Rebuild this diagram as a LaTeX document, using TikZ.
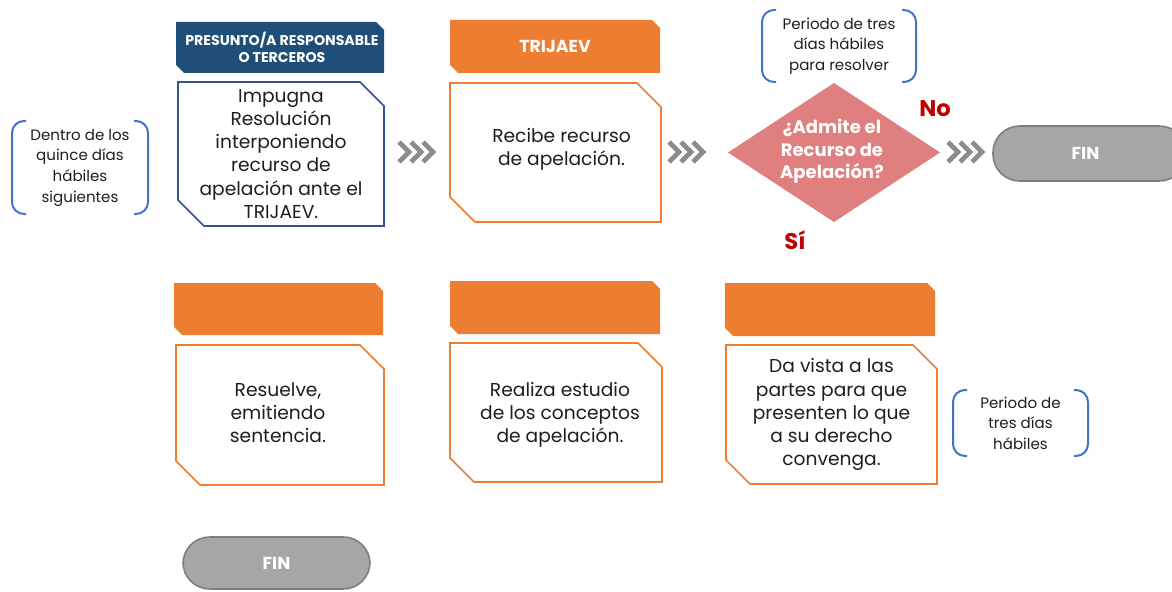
\documentclass[tikz,border=0pt]{standalone}
\usepackage{fontspec}
\setmainfont{Poppins}
\usetikzlibrary{calc,fit}
\definecolor{hdrblue}{HTML}{1F4E79}
\definecolor{boxblue}{HTML}{2F5597}
\definecolor{orng}{HTML}{ED7D31}
\definecolor{dia}{HTML}{E07F7F}
\definecolor{brblue}{HTML}{4472C4}
\definecolor{pillfill}{HTML}{A6A6A6}
\definecolor{pilldraw}{HTML}{7F7F7F}
\definecolor{chevgray}{HTML}{8C8C8C}
\definecolor{darkred}{HTML}{C00000}
\definecolor{txtcol}{HTML}{1E1E1E}
\newcommand\snipshape[4]{%
  \path[#4] (#1.north west) -- ($(#1.north east)+(-#2,0)$) -- ($(#1.north east)+(0,#2)$)
    -- (#1.south east) -- ($(#1.south west)+(#3,0)$) -- ($(#1.south west)+(0,-#3)$) -- cycle;}
\newcommand\bracketpair[1]{%
  \draw[bracket] ($(#1.north west)+(14,0)$) -- (#1.north west) -- (#1.south west) -- ($(#1.south west)+(14,0)$);
  \draw[bracket] ($(#1.north east)+(-14,0)$) -- (#1.north east) -- (#1.south east) -- ($(#1.south east)+(-14,0)$);}
\newcommand\chevrons[1]{%
  \foreach \i in {0,1,2} {\draw[chev] ($(#1)+(-17+12*\i,-10)$) -- ($(#1)+(-7+12*\i,0)$) -- ($(#1)+(-17+12*\i,10)$);}}
\begin{document}
\begin{tikzpicture}[x=0.75pt,y=-0.75pt,
  area/.style={inner sep=0pt, outer sep=0pt},
  boxtext/.style={align=center, font=\fontsize{14}{17.3}\selectfont, text=txtcol, inner sep=0pt},
  hdrtext/.style={align=center, font=\fontsize{10.6}{12.8}\selectfont\bfseries, text=white, inner sep=0pt},
  bigtext/.style={align=center, font=\fontsize{13}{15}\selectfont\bfseries, text=white, inner sep=0pt},
  diatext/.style={align=center, font=\fontsize{13.5}{16.8}\selectfont\bfseries, text=white, inner sep=0pt},
  notetext/.style={align=center, font=\fontsize{11.3}{15.5}\selectfont, text=txtcol, inner sep=0pt},
  yesno/.style={font=\fontsize{17}{19}\selectfont\bfseries, text=darkred, inner sep=0pt},
  bracket/.style={draw=brblue, line width=1.5pt, rounded corners=9pt},
  chev/.style={draw=chevgray, line width=3.5pt},
  pill/.style={fill=pillfill, draw=pilldraw, line width=1.2pt, rounded corners=20pt},
  hdrb/.style={fill=hdrblue},
  hdro/.style={fill=orng},
  boxb/.style={fill=white, draw=boxblue, line width=1.3pt},
  boxo/.style={fill=white, draw=orng, line width=1.3pt}]
\useasboundingbox (0,0) rectangle (1172,592);
% areas
\node[area, fit={(176,22)(384,73)}] (h1) {};
\node[area, fit={(178,82)(384,226)}] (b1) {};
\node[area, fit={(450,20)(660,73)}] (h2) {};
\node[area, fit={(450,83)(661,222)}] (b2) {};
\node[area, fit={(174,283)(383,335)}] (h3) {};
\node[area, fit={(176,345)(384,485)}] (b3) {};
\node[area, fit={(450,281)(660,334)}] (h4) {};
\node[area, fit={(450,343)(662,482)}] (b4) {};
\node[area, fit={(725,283)(935,336)}] (h5) {};
\node[area, fit={(726,345)(937,484)}] (b5) {};
\node[area, fit={(728,83)(940,222)}] (d) {};
\node[area, fit={(993,126)(1186,181)}] (fin1) {};
\node[area, fit={(183,537)(370,589)}] (fin2) {};
\node[area, fit={(12,121)(148,214)}] (n1) {};
\node[area, fit={(762,10)(916,82)}] (n2) {};
\node[area, fit={(953,390)(1088,456)}] (n3) {};
\coordinate (c1) at (416,152);
\coordinate (c2) at (686,152);
\coordinate (c3) at (965,152);
% shapes
\snipshape{h1}{8}{8}{hdrb}
\snipshape{b1}{24}{26}{boxb}
\snipshape{h2}{8}{8}{hdro}
\snipshape{b2}{24}{25}{boxo}
\snipshape{h3}{8}{8}{hdro}
\snipshape{b3}{24}{24}{boxo}
\snipshape{h4}{8}{8}{hdro}
\snipshape{b4}{24}{24}{boxo}
\snipshape{h5}{8}{8}{hdro}
\snipshape{b5}{24}{24}{boxo}
\fill[dia] (d.west) -- (d.north) -- (d.east) -- (d.south) -- cycle;
\path[pill] (fin1.south west) rectangle (fin1.north east);
\path[pill] (fin2.south west) rectangle (fin2.north east);
\bracketpair{n1}
\bracketpair{n2}
\bracketpair{n3}
\chevrons{c1}
\chevrons{c2}
\chevrons{c3}
% texts
\node[hdrtext] (h1t) at ($(h1.center)+(2,0)$) {PRESUNTO/A RESPONSABLE\\O TERCEROS};
\node[bigtext] (h2t) at (h2.center) {TRIJAEV};
\node[boxtext] (b1t) at ($(b1.center)+(0,0)$) {Impugna\\Resolución\\interponiendo\\recurso de\\apelación ante el\\TRIJAEV.};
\node[boxtext] (b2t) at ($(b2.center)+(6,-3)$) {Recibe recurso\\de apelación.};
\node[boxtext] (b3t) at ($(b3.center)+(-2,-2)$) {Resuelve,\\emitiendo\\sentencia.};
\node[boxtext] (b4t) at ($(b4.center)+(4,2)$) {Realiza estudio\\de los conceptos\\de apelación.};
\node[boxtext] (b5t) at ($(b5.center)+(0,0)$) {Da vista a las\\partes para que\\presenten lo que\\a su derecho\\convenga.};
\node[diatext] (dt) at ($(d.center)+(-2,-1)$) {¿Admite el\\Recurso de\\Apelación?};
\node[bigtext] (f1t) at ($(fin1.center)+(-4,0)$) {FIN};
\node[bigtext] (f2t) at (fin2.center) {FIN};
\node[notetext] (n1t) at (n1.center) {Dentro de los\\quince días\\hábiles\\siguientes};
\node[notetext] (n2t) at (n2.center) {Periodo de tres\\días hábiles\\para resolver};
\node[notetext] (n3t) at (n3.center) {Periodo de\\tres días\\hábiles};
\node[yesno] (no) at (935,109) {No};
\node[yesno] (si) at (795,240) {Sí};
\end{tikzpicture}
\end{document}
